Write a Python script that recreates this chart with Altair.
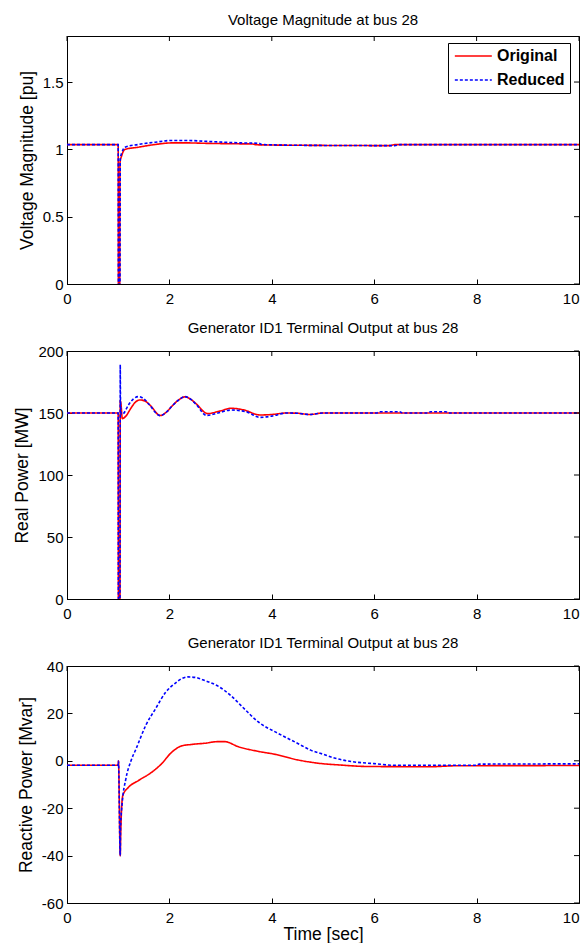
import altair as alt
import pandas as pd

series_names = ["Original", "Reduced"]
series_colors = ["#ff0000", "#0000ff"]
x_ticks = [0, 2, 4, 6, 8, 10]

# ---- Panel 1: voltage magnitude [pu]
v_orig_t = [0, 1.0, 1.004, 1.03, 1.035, 1.07, 1.13, 1.39, 1.72, 2.04, 2.36, 2.69, 3.40, 3.62, 3.70, 4.70, 6.30, 6.40, 10]
v_orig_y = [1.035, 1.035, 0.0, 0.0, 0.90, 0.955, 0.999, 1.016, 1.036, 1.048, 1.048, 1.045, 1.041, 1.040, 1.034, 1.030, 1.028, 1.035, 1.035]
v_red_t = [0, 1.0, 1.004, 1.035, 1.04, 1.07, 1.13, 1.39, 1.72, 2.04, 2.36, 2.69, 3.40, 3.75, 3.80, 4.60, 6.40, 6.50, 10]
v_red_y = [1.035, 1.035, 0.0, 0.0, 0.93, 0.974, 1.016, 1.036, 1.053, 1.066, 1.066, 1.060, 1.048, 1.045, 1.036, 1.030, 1.028, 1.035, 1.035]
v_ticks = [0, 0.5, 1, 1.5]

# ---- Panel 2: real power [MW]
p_orig_t = [0, 1.0, 1.004, 1.035, 1.04, 1.055, 1.08, 1.15, 1.25, 1.33, 1.43, 1.53, 1.63, 1.82, 1.95, 2.05, 2.18, 2.30, 2.42, 2.52, 2.75, 2.98, 3.21, 3.45, 3.77, 4.0, 4.29, 4.5, 4.74, 5.0, 10]
p_orig_y = [150, 150, 0, 0, 160, 157, 145.5, 147.5, 154, 158.5, 160.5, 159.5, 156, 148, 151, 155.5, 160.5, 163, 161, 157.5, 149.5, 151.5, 153.8, 152.5, 148.4, 148.8, 150, 149.8, 148.8, 150, 150]
p_red_t = [0, 1.0, 1.004, 1.035, 1.04, 1.045, 1.06, 1.1, 1.2, 1.3, 1.395, 1.5, 1.6, 1.82, 1.95, 2.05, 2.18, 2.30, 2.42, 2.52, 2.73, 2.95, 3.21, 3.5, 3.77, 4.0, 4.29, 4.5, 4.74, 5.0, 6.05, 6.1, 6.5, 6.55, 7.05, 7.1, 7.4, 7.45, 10]
p_red_y = [150, 150, 0, 0, 189, 160, 149, 149.5, 156.5, 161.5, 163.2, 161.5, 157, 147.9, 151, 155.5, 160.5, 163.2, 161, 157, 148, 150, 152.4, 151, 146.5, 147.5, 150, 149.8, 148.8, 150, 150, 151, 151, 150, 150, 151, 151, 150, 150]
p_ticks = [0, 50, 100, 150, 200]

# ---- Panel 3: reactive power [Mvar]
q_orig_t = [0, 1.0, 1.005, 1.04, 1.05, 1.09, 1.2, 1.39, 1.65, 1.84, 2.04, 2.24, 2.43, 2.69, 2.95, 3.08, 3.34, 3.73, 4.05, 4.5, 4.9, 5.35, 5.87, 7.1, 7.6, 10]
q_orig_y = [-1.9, -1.9, -0.1, -40, -30, -14.6, -11.2, -8.4, -4.9, -1.4, 3.5, 6.3, 6.9, 7.4, 8.1, 8.1, 6.0, 4.0, 2.8, 0.4, -1.0, -1.8, -2.4, -2.5, -2.1, -2.0]
q_red_t = [0, 1.0, 1.005, 1.04, 1.045, 1.08, 1.15, 1.25, 1.35, 1.54, 1.73, 1.93, 2.1, 2.25, 2.36, 2.5, 2.7, 2.95, 3.2, 3.46, 3.73, 4.12, 4.5, 4.76, 5.0, 5.22, 5.55, 6.0, 6.4, 8.0, 8.05, 10]
q_red_y = [-1.9, -1.9, -0.1, -40, -28.6, -17.4, -7.6, 0, 5.1, 15, 22, 29, 32.5, 34.8, 35.4, 35.2, 33.8, 31.5, 27.5, 22, 16.5, 11.6, 7.4, 4.5, 2.8, 1.2, -0.3, -1.2, -1.9, -1.9, -1.4, -1.3]
q_ticks = [-60, -40, -20, 0, 20, 40]

W = 512
INWARD = {"expr": "-5"}
LABEL = "datum.value + ''"
X_ALIGN = {"condition": {"test": "datum.value == 10", "value": "right"}, "value": "center"}


def frame(orig_t, orig_y, red_t, red_y):
    a = pd.DataFrame({"t": orig_t, "v": orig_y, "series": "Original"})
    b = pd.DataFrame({"t": red_t, "v": red_y, "series": "Reduced"})
    return pd.concat([a, b], ignore_index=True)


def panel(df, ydom, yticks, ytitle, title, height, xtitle=None, legend=False):
    xs = alt.Scale(domain=[0, 10], nice=False, zero=False)
    ys = alt.Scale(domain=ydom, nice=False, zero=False)
    xaxis_kw = dict(values=x_ticks, tickSize=INWARD, labelPadding=12, labelExpr=LABEL,
                    labelAlign=X_ALIGN)
    if xtitle:
        xaxis_kw["title"] = xtitle
        xaxis_kw["titlePadding"] = 0
    else:
        xaxis_kw["title"] = None
    xaxis = alt.Axis(**xaxis_kw)
    yaxis = alt.Axis(values=yticks, tickSize=INWARD, labelPadding=9, labelExpr=LABEL, title=ytitle)
    if legend:
        leg = alt.Legend(title=None, orient="none", legendX=381, legendY=7)
    else:
        leg = None
    lines = alt.Chart(df).mark_line(strokeWidth=1.6, clip=True, interpolate="monotone").encode(
        x=alt.X("t:Q", scale=xs, axis=xaxis),
        y=alt.Y("v:Q", scale=ys, axis=yaxis),
        color=alt.Color("series:N",
                        scale=alt.Scale(domain=series_names, range=series_colors),
                        legend=leg),
        strokeDash=alt.StrokeDash("series:N",
                                  scale=alt.Scale(domain=series_names, range=[[1, 0], [3, 2]]),
                                  legend=leg),
        order=alt.Order("series:N"),
    )
    top_ticks = alt.Chart(pd.DataFrame({"t": x_ticks})).mark_rule(color="black", strokeWidth=1).encode(
        x=alt.X("t:Q", scale=xs, axis=xaxis), y=alt.value(0), y2=alt.value(5)
    )
    right_ticks = alt.Chart(pd.DataFrame({"v": yticks})).mark_rule(color="black", strokeWidth=1).encode(
        y=alt.Y("v:Q", scale=ys, axis=yaxis), x=alt.value(W - 5), x2=alt.value(W)
    )
    return alt.layer(lines, top_ticks, right_ticks).properties(
        width=W, height=height, title=title
    )


p1 = panel(frame(v_orig_t, v_orig_y, v_red_t, v_red_y), [0, 1.842], v_ticks,
           "Voltage Magnitude [pu]", "Voltage Magnitude at bus 28", 248, legend=True)
p2 = panel(frame(p_orig_t, p_orig_y, p_red_t, p_red_y), [0, 200], p_ticks,
           "Real Power [MW]", "Generator ID1 Terminal Output at bus 28", 248)
p3 = panel(frame(q_orig_t, q_orig_y, q_red_t, q_red_y), [-60, 40], q_ticks,
           "Reactive Power [Mvar]", "Generator ID1 Terminal Output at bus 28", 237,
           xtitle="Time [sec]")

chart = alt.vconcat(p1, p2, p3, spacing=67, bounds="flush").properties(
    padding={"left": 5, "top": 4, "right": 0, "bottom": 0}
).configure(
    font="Liberation Sans",
).configure_view(
    stroke="black", strokeWidth=1
).configure_axis(
    grid=False,
    labelFont="Liberation Sans", labelFontSize=15, labelColor="black",
    titleFont="Liberation Sans", titleFontSize=17.5, titleFontWeight="normal", titleColor="black",
    domainColor="black", tickColor="black", domainWidth=1, tickWidth=1,
    titlePadding=6, labelFlush=False, labelOverlap=False,
).configure_title(
    font="Liberation Sans", fontSize=15, fontWeight="normal", color="black", offset=8,
).configure_legend(
    strokeColor="black", fillColor="white", padding=5, cornerRadius=0,
    labelFont="Liberation Sans", labelFontSize=16, labelFontWeight="bold", labelColor="black",
    symbolType="M-1,0H5", symbolSize=152, symbolStrokeWidth=1.6, labelOffset=28, rowPadding=8,
)

chart.save("out.html", embed_options={"renderer": "svg", "actions": False})
